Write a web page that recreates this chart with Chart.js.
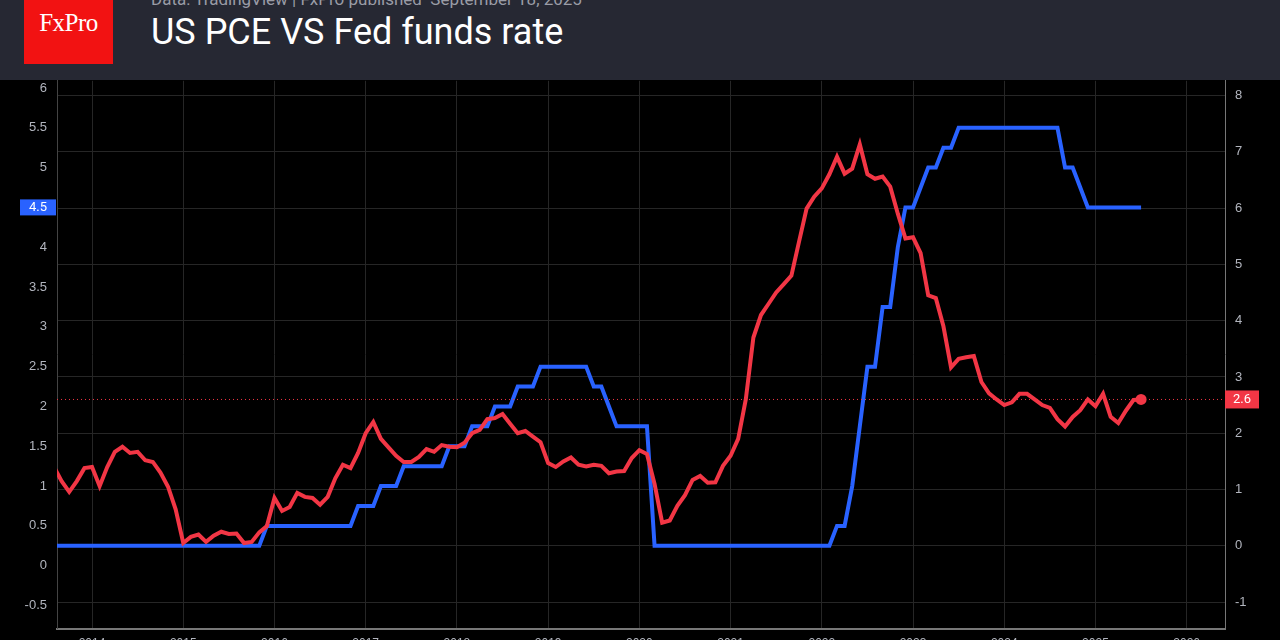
<!DOCTYPE html>
<html><head><meta charset="utf-8">
<script src="https://cdn.jsdelivr.net/npm/chart.js@4.4.1/dist/chart.umd.min.js"></script>
<style>
html,body{margin:0;padding:0;background:#000;width:1280px;height:640px;overflow:hidden;font-family:Roboto,"Noto Sans",sans-serif}
#hdr{position:absolute;left:0;top:0;width:1280px;height:80px;background:#262833;z-index:2}
#logo{position:absolute;left:24px;top:0;width:89px;height:64px;background:#f21212;color:#fff;font-family:"Liberation Serif","DejaVu Serif",serif;font-size:25px;line-height:46px;text-align:center;letter-spacing:-0.5px}
#sub{position:absolute;left:151px;top:-11px;color:#9a9ca6;font-size:17px}
#ttl{position:absolute;left:151px;top:11px;color:#fff;font-size:36px}
#wrap{position:absolute;left:0;top:63px;width:1280px;height:596px;z-index:1}
</style></head><body>
<div id="hdr"><div id="logo">FxPro</div><div id="sub">Data: TradingView | FxPro published&nbsp; September 18, 2025</div><div id="ttl">US PCE VS Fed funds rate</div></div>
<div id="wrap"><canvas id="c"></canvas></div>
<script>
// Monthly data, August 2013 – July 2025
const startYear = 2013, startMonth = 8;
const fedFunds = [
0.25,0.25,0.25,0.25,0.25,
0.25,0.25,0.25,0.25,0.25,0.25,0.25,0.25,0.25,0.25,0.25,0.25,
0.25,0.25,0.25,0.25,0.25,0.25,0.25,0.25,0.25,0.25,0.25,0.5,
0.5,0.5,0.5,0.5,0.5,0.5,0.5,0.5,0.5,0.5,0.5,0.75,
0.75,0.75,1.0,1.0,1.0,1.25,1.25,1.25,1.25,1.25,1.25,1.5,
1.5,1.5,1.75,1.75,1.75,2.0,2.0,2.0,2.25,2.25,2.25,2.5,
2.5,2.5,2.5,2.5,2.5,2.5,2.25,2.25,2.0,1.75,1.75,1.75,
1.75,1.75,0.25,0.25,0.25,0.25,0.25,0.25,0.25,0.25,0.25,0.25,
0.25,0.25,0.25,0.25,0.25,0.25,0.25,0.25,0.25,0.25,0.25,0.25,
0.25,0.25,0.5,0.5,1.0,1.75,2.5,2.5,3.25,3.25,4.0,4.5,
4.5,4.75,5.0,5.0,5.25,5.25,5.5,5.5,5.5,5.5,5.5,5.5,
5.5,5.5,5.5,5.5,5.5,5.5,5.5,5.5,5.0,5.0,4.75,4.5,
4.5,4.5,4.5,4.5,4.5,4.5,4.5];
const pce = [
1.4,1.15,0.96,1.15,1.38,
1.4,1.06,1.4,1.67,1.76,1.65,1.67,1.52,1.49,1.3,1.05,0.65,
0.05,0.16,0.2,0.07,0.18,0.25,0.21,0.22,0.05,0.07,0.24,0.35,
0.85,0.62,0.69,0.94,0.87,0.85,0.73,0.87,1.2,1.44,1.38,1.65,
2.0,2.2,1.9,1.75,1.6,1.49,1.49,1.58,1.72,1.67,1.79,1.76,
1.75,1.83,2.0,2.06,2.25,2.27,2.34,2.17,2.0,2.04,1.94,1.84,
1.47,1.4,1.5,1.57,1.44,1.41,1.44,1.42,1.29,1.32,1.33,1.56,
1.7,1.63,1.1,0.41,0.45,0.71,0.9,1.17,1.24,1.12,1.13,1.42,
1.6,1.9,2.6,3.7,4.1,4.3,4.5,4.65,4.8,5.4,5.99,6.2,
6.35,6.6,6.91,6.61,6.7,7.13,6.6,6.52,6.56,6.38,5.9,5.46,
5.48,5.2,4.45,4.4,3.9,3.17,3.32,3.35,3.37,2.91,2.71,2.6,
2.5,2.55,2.7,2.7,2.6,2.5,2.45,2.25,2.12,2.29,2.41,2.6,
2.48,2.7,2.29,2.18,2.4,2.59,2.6];
const leftTicks = [-0.5,0,0.5,1,1.5,2,2.5,3,3.5,4,4.5,5,5.5,6];
const rightTicks = [-1,0,1,2,3,4,5,6,7,8];
const yearTicks = [2014,2015,2016,2017,2018,2019,2020,2021,2022,2023,2024,2025,2026];

const xOf = i => startYear + (startMonth - 1 + i) / 12;
const fedPts = fedFunds.map((v,i)=>({x:xOf(i),y:v}));
const pcePts = pce.map((v,i)=>({x:xOf(i),y:v}));
const BLUE='#2962ff', RED='#f23645', TXT='#b2b5be';

const labels = {
  id:'labels',
  afterDraw(ch){
    const c=ch.ctx, a=ch.chartArea, yl=ch.scales.yL, yr=ch.scales.yR, x=ch.scales.x;
    const lastF=fedFunds[fedFunds.length-1], lastP=pce[pce.length-1];
    const yp=yr.getPixelForValue(lastP), yf=yl.getPixelForValue(lastF);
    c.save();
    c.strokeStyle=RED; c.lineWidth=1; c.setLineDash([1,3]);
    c.beginPath(); c.moveTo(a.left,yp); c.lineTo(a.right,yp); c.stroke();
    c.setLineDash([]);
    const px=x.getPixelForValue(xOf(pce.length-1));
    c.fillStyle=RED; c.beginPath(); c.arc(px,yp,5.5,0,Math.PI*2); c.fill();
    c.font='13px Roboto'; c.textBaseline='middle'; c.textAlign='center';
    c.fillStyle=RED; c.fillRect(a.right,yp-9,34,18);
    c.fillStyle='#fff'; c.fillText(lastP.toFixed(1),a.right+17,yp+0.5);
    c.fillStyle=BLUE; c.fillRect(20,yf-8,36,16);
    c.fillStyle='#fff'; c.fillText(String(lastF),38,yf+0.5);
    c.restore();
  }
};

new Chart(document.getElementById('c'),{
  type:'line',
  data:{datasets:[
    {data:pcePts,yAxisID:'yR',borderColor:RED,borderWidth:4,pointRadius:0,tension:0},
    {data:fedPts,yAxisID:'yL',borderColor:BLUE,borderWidth:4,pointRadius:0,tension:0}
  ]},
  options:{
    responsive:true,maintainAspectRatio:false,animation:false,
    layout:{padding:0},
    plugins:{legend:{display:false},tooltip:{enabled:false}},
    scales:{
      x:{type:'linear',min:2013.616,max:2026.42,
        afterBuildTicks(s){s.ticks=yearTicks.map(v=>({value:v}));},
        ticks:{color:TXT,font:{size:12},callback:v=>String(v),padding:8,maxRotation:0},
        grid:{color:'#262626',lineWidth:1,drawTicks:false},
        border:{color:'#777',width:2}},
      yL:{position:'left',min:-0.79,max:6.09,
        afterBuildTicks(s){s.ticks=leftTicks.map(v=>({value:v}));},
        afterFit(s){s.width=57;},
        ticks:{color:TXT,font:{size:13},padding:10,callback:v=>String(v)},
        grid:{display:false,drawTicks:false},
        border:{color:'#444',width:1}},
      yR:{position:'right',min:-1.47,max:8.26,
        afterBuildTicks(s){s.ticks=rightTicks.map(v=>({value:v}));},
        afterFit(s){s.width=55;},
        ticks:{color:TXT,font:{size:13},padding:10,callback:v=>String(v)},
        grid:{color:'#262626',lineWidth:1,drawTicks:false},
        border:{color:'#777',width:1}}
    }
  },
  plugins:[labels]
});
</script></body></html>
